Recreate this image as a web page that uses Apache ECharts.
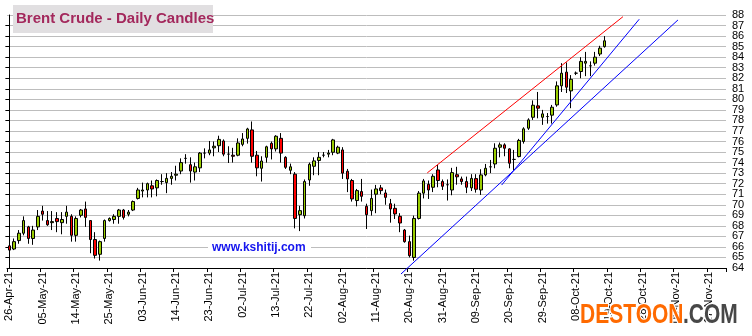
<!DOCTYPE html>
<html><head><meta charset="utf-8">
<script src="https://cdn.jsdelivr.net/npm/echarts/dist/echarts.min.js"></script>
<style>html,body{margin:0;padding:0;background:#fff}#c{width:752px;height:336px}</style>
</head><body><div id="c"></div>
<script>
// Trading-day categories (weekdays) 26-Apr-21 .. 22-Nov-21
const categories = [
'26-Apr-21','27-Apr-21','28-Apr-21','29-Apr-21','30-Apr-21',
'03-May-21','04-May-21','05-May-21','06-May-21','07-May-21',
'10-May-21','11-May-21','12-May-21','13-May-21','14-May-21',
'17-May-21','18-May-21','19-May-21','20-May-21','21-May-21',
'24-May-21','25-May-21','26-May-21','27-May-21','28-May-21',
'31-May-21','01-Jun-21','02-Jun-21','03-Jun-21','04-Jun-21',
'07-Jun-21','08-Jun-21','09-Jun-21','10-Jun-21','11-Jun-21',
'14-Jun-21','15-Jun-21','16-Jun-21','17-Jun-21','18-Jun-21',
'21-Jun-21','22-Jun-21','23-Jun-21','24-Jun-21','25-Jun-21',
'28-Jun-21','29-Jun-21','30-Jun-21','01-Jul-21','02-Jul-21',
'05-Jul-21','06-Jul-21','07-Jul-21','08-Jul-21','09-Jul-21',
'12-Jul-21','13-Jul-21','14-Jul-21','15-Jul-21','16-Jul-21',
'19-Jul-21','20-Jul-21','21-Jul-21','22-Jul-21','23-Jul-21',
'26-Jul-21','27-Jul-21','28-Jul-21','29-Jul-21','30-Jul-21',
'02-Aug-21','03-Aug-21','04-Aug-21','05-Aug-21','06-Aug-21',
'09-Aug-21','10-Aug-21','11-Aug-21','12-Aug-21','13-Aug-21',
'16-Aug-21','17-Aug-21','18-Aug-21','19-Aug-21','20-Aug-21',
'23-Aug-21','24-Aug-21','25-Aug-21','26-Aug-21','27-Aug-21',
'30-Aug-21','31-Aug-21','01-Sep-21','02-Sep-21','03-Sep-21',
'06-Sep-21','07-Sep-21','08-Sep-21','09-Sep-21','10-Sep-21',
'13-Sep-21','14-Sep-21','15-Sep-21','16-Sep-21','17-Sep-21',
'20-Sep-21','21-Sep-21','22-Sep-21','23-Sep-21','24-Sep-21',
'27-Sep-21','28-Sep-21','29-Sep-21','30-Sep-21','01-Oct-21',
'04-Oct-21','05-Oct-21','06-Oct-21','07-Oct-21','08-Oct-21',
'11-Oct-21','12-Oct-21','13-Oct-21','14-Oct-21','15-Oct-21',
'18-Oct-21','19-Oct-21','20-Oct-21','21-Oct-21','22-Oct-21',
'25-Oct-21','26-Oct-21','27-Oct-21','28-Oct-21','29-Oct-21',
'01-Nov-21','02-Nov-21','03-Nov-21','04-Nov-21','05-Nov-21',
'08-Nov-21','09-Nov-21','10-Nov-21','11-Nov-21','12-Nov-21',
'15-Nov-21','16-Nov-21','17-Nov-21','18-Nov-21','19-Nov-21',
'22-Nov-21'
];

const openP = [
66.1,65.8,66.6,67.3,67.9,66.8,67.9,69.4,68.5,68.3,
68.7,68.3,68.9,68.9,67.1,69.0,69.6,68.5,66.7,65.3,
66.8,68.5,68.6,68.9,69.5,69.1,69.5,70.6,71.3,71.4,
71.8,71.6,72.2,72.1,72.5,72.8,73.2,74.4,73.8,73.1,
73.5,74.9,74.9,75.4,75.6,76.05,74.8,74.7,74.7,75.73,
76.3,77.1,74.7,73.46,74.5,75.83,75.3,76.3,74.5,73.27,
72.9,69.06,68.96,72.35,73.65,74.2,74.7,74.8,74.98,74.9,
75.2,73.18,72.3,70.4,71.25,69.85,69.44,71.0,71.6,71.12,
70.1,69.66,68.9,67.6,66.5,65.0,68.7,71.1,71.94,71.66,
73.3,72.2,71.9,71.4,72.85,72.45,72.2,71.6,72.48,71.4,
72.83,73.6,73.87,75.46,75.68,75.3,74.3,74.57,76.0,77.26,
78.3,79.38,78.3,78.37,78.5,79.47,81.28,82.58,80.8,82.48,
82.64,83.43,83.18,83.43,84.3,85.0
];
const closeP = [
65.7,66.5,67.3,68.5,66.8,67.6,68.9,69.1,68.1,68.4,
68.4,68.6,69.3,67.1,68.7,69.5,68.8,66.7,65.2,66.5,
68.5,68.7,68.9,69.5,68.8,69.3,70.3,71.4,71.4,72.0,
71.5,72.3,72.2,72.5,72.7,72.9,74.0,74.4,73.2,73.6,
74.9,74.9,75.2,75.55,76.2,74.8,74.8,74.6,75.86,76.24,
77.19,74.6,73.5,74.15,75.5,75.3,76.5,74.9,73.55,73.6,
68.7,69.44,72.2,73.84,74.16,74.5,74.7,74.9,76.15,75.46,
73.0,72.45,70.55,71.34,70.8,69.06,70.6,71.5,71.34,70.7,
69.6,69.13,68.27,66.5,65.17,68.7,71.1,72.26,71.4,72.7,
72.3,71.75,71.9,73.05,72.65,72.2,71.66,72.5,71.47,72.83,
73.46,73.6,75.36,75.68,75.36,73.94,74.3,76.1,77.2,78.05,
79.44,79.16,78.62,78.37,79.25,81.28,82.48,81.15,81.9,82.48,
83.6,83.6,83.18,84.0,84.85,85.55
];
const lowP = [
64.7,65.7,66.3,67.1,66.3,66.2,67.6,68.5,68.0,67.6,
67.4,67.2,68.2,66.5,66.5,68.8,67.9,65.4,64.9,64.7,
66.5,68.4,68.2,68.2,68.6,68.9,69.4,70.5,70.7,70.7,
70.7,70.8,71.9,71.1,71.9,72.3,72.9,73.9,72.1,72.3,
73.1,74.4,74.7,74.6,75.0,74.6,73.96,74.0,74.6,75.55,
75.8,74.0,72.7,72.2,74.0,74.3,75.05,74.0,73.4,72.9,
67.76,67.5,68.7,71.8,72.8,72.8,74.5,74.5,74.7,74.8,
72.45,71.2,70.3,69.85,70.3,67.7,68.97,69.2,71.0,70.0,
68.3,68.65,67.4,66.4,65.0,64.7,68.6,70.6,70.55,71.2,
71.66,71.4,70.4,70.9,71.9,71.9,71.1,71.3,71.15,70.93,
72.7,73.0,73.46,74.5,74.6,73.46,73.3,74.5,75.8,77.1,
78.05,78.2,77.58,77.7,77.7,79.3,80.7,80.6,79.16,82.3,
82.0,82.2,82.2,83.2,84.1,84.9
];
const highP = [
66.2,66.8,67.6,68.9,68.0,68.0,69.5,69.9,69.4,69.4,
69.3,69.3,69.9,69.1,68.9,69.6,70.3,68.5,67.4,66.6,
68.6,68.8,69.1,69.6,69.6,69.5,70.4,71.6,72.1,72.1,
72.3,72.4,72.9,73.0,73.1,73.7,74.4,74.8,74.5,74.0,
75.0,75.35,76.05,76.0,76.55,76.2,75.55,75.4,76.3,76.8,
77.3,77.9,75.1,74.6,75.6,76.0,76.6,76.8,74.6,73.9,
73.1,69.9,72.4,74.0,74.5,75.0,75.0,75.2,76.25,75.6,
75.46,73.4,72.45,71.5,72.45,70.1,71.44,71.88,71.88,71.44,
70.55,70.1,69.2,67.7,67.07,68.97,71.3,72.45,72.3,72.9,
73.78,72.4,72.4,73.5,73.6,72.67,72.67,72.9,72.9,73.37,
73.87,74.25,75.83,75.9,75.83,75.36,75.2,76.25,77.35,78.2,
79.9,80.7,79.0,78.7,79.47,81.7,83.43,83.5,82.3,82.64,
84.0,84.5,83.6,84.5,85.08,86.0
];

// y axis ticks
const yMin = 64, yMax = 88, yStep = 1;
// x label every 7 trading days
const labelEvery = 7;

// Trend lines [categoryIndex, price]
const redLine = [[87.76, 73.02], [128.86, 87.84]];
const blueLineA = [[82.24, 63.43], [140.41, 87.53]];
const blueLineB = [[103.38, 71.87], [132.28, 87.6]];

const FONT = '"Liberation Sans", Arial, sans-serif';
const candleData = openP.map((o, i) => [o, closeP[i], lowP[i], highP[i]]);
const yLabelStyle = {margin: 6, fontSize: 11, color: '#000', fontFamily: FONT, hideOverlap: false};

const chart = echarts.init(document.getElementById('c'), null, {renderer: 'canvas'});
chart.setOption({
  animation: false,
  backgroundColor: '#ffffff',
  grid: {left: 7, right: 26, top: 15, bottom: 68, containLabel: false, outerBoundsMode: 'none'},
  xAxis: [{
    type: 'category',
    data: categories,
    boundaryGap: true,
    axisLine: {show: true, lineStyle: {color: '#000', width: 1}},
    axisTick: {show: true, interval: labelEvery - 1, length: 4, lineStyle: {color: '#000'}},
    axisLabel: {interval: labelEvery - 1, rotate: 90, margin: 4, fontSize: 11, color: '#000', fontFamily: FONT, hideOverlap: false},
    splitLine: {show: false}
  }, {
    type: 'value', min: -0.5, max: categories.length - 0.5, show: false
  }],
  yAxis: [{
    type: 'value', position: 'right', min: yMin, max: yMax, interval: yStep,
    axisLine: {show: true, lineStyle: {color: '#000', width: 1}},
    axisTick: {show: true, inside: true, length: 4, lineStyle: {color: '#000'}},
    axisLabel: Object.assign({showMinLabel: false, showMaxLabel: false}, yLabelStyle),
    splitLine: {show: true, lineStyle: {color: '#bdbdbd', width: 1}}
  }, {
    type: 'value', position: 'right', min: yMin, max: yMax, interval: yStep,
    axisLine: {show: false}, axisTick: {show: false}, splitLine: {show: false},
    axisLabel: Object.assign({showMinLabel: true, showMaxLabel: true,
      formatter: v => (v === yMin || v === yMax) ? String(v) : ''}, yLabelStyle)
  }],
  series: [{
    type: 'candlestick',
    data: candleData,
    barWidth: 3,
    itemStyle: {color: '#99cc00', color0: '#ff0000', borderColor: '#000', borderColor0: '#000', borderWidth: 1},
    z: 3
  }, {
    type: 'line', xAxisIndex: 1, data: redLine, symbol: 'none', clip: false,
    lineStyle: {color: '#ff0000', width: 1}, z: 4
  }, {
    type: 'line', xAxisIndex: 1, data: blueLineA, symbol: 'none', clip: false,
    lineStyle: {color: '#0000ff', width: 1}, z: 4
  }, {
    type: 'line', xAxisIndex: 1, data: blueLineB, symbol: 'none', clip: false,
    lineStyle: {color: '#0000ff', width: 1}, z: 4
  }],
  graphic: [
    {type: 'rect', left: 13, top: 5, shape: {width: 200, height: 28}, style: {fill: '#e1dfe1'}, z: 100},
    {type: 'text', left: 16, top: 11, style: {text: 'Brent Crude - Daily Candles', font: 'bold 15px ' + FONT, fill: '#a3285c'}, z: 101},
    {type: 'rect', left: 208, top: 240, shape: {width: 103, height: 17}, style: {fill: '#ffffff'}, z: 100},
    {type: 'text', left: 212, top: 242, style: {text: 'www.kshitij.com', font: 'bold 12px ' + FONT, fill: '#1414ee'}, z: 101},
    {type: 'text', x: 580, y: 301, scaleY: 1.35, style: {text: 'DESTOON', font: 'bold 21px ' + FONT, fill: '#ff6a00', stroke: '#ffffff', lineWidth: 2}, z: 110},
    {type: 'text', x: 683, y: 301, scaleY: 1.35, style: {text: '.COM', font: 'bold 21px ' + FONT, fill: '#474747', stroke: '#ffffff', lineWidth: 2}, z: 110}
  ]
});
</script>
</body></html>
